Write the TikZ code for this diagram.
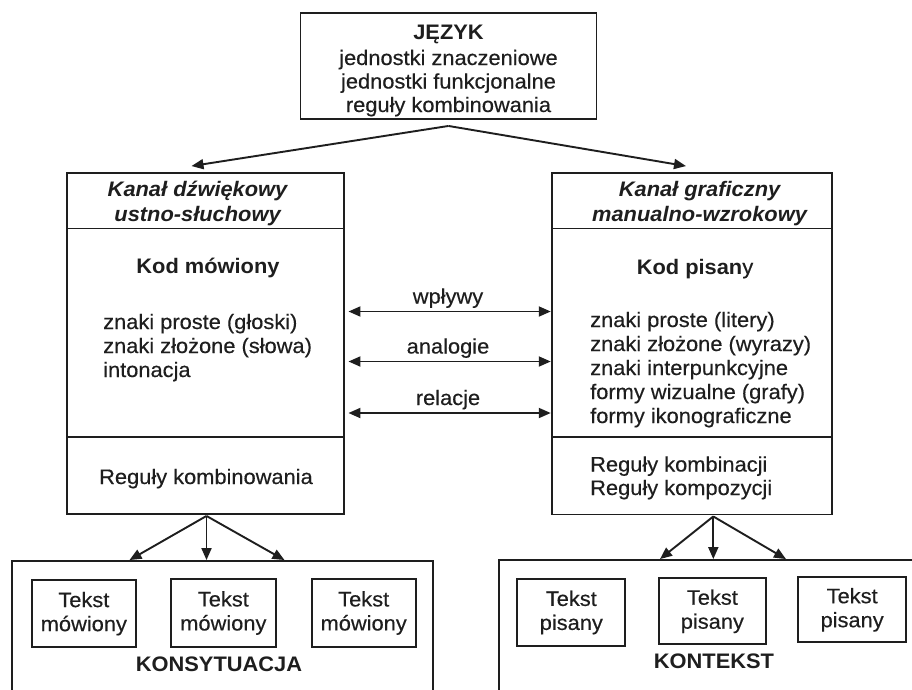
\documentclass[tikz,border=0pt]{standalone}
\usepackage{fontspec}
\setmainfont{Liberation Sans}[FakeStretch=1.04,UprightFeatures={FakeBold=0.35}]
\usetikzlibrary{arrows.meta,calc}
\definecolor{ink}{HTML}{1E1E1E}
\begin{document}
\begin{tikzpicture}[x=1pt,y=-1pt,
  font=\fontsize{21}{24}\selectfont,
  every node/.append style={text=ink},
  frame/.style 2 args={draw=ink,line width=1.9pt,inner sep=0pt,minimum width=#1,minimum height=#2},
  tc/.style={anchor=base,inner sep=0pt},
  tw/.style={anchor=base west,inner sep=0pt},
  arr/.style={draw=ink,line width=1.9pt,-{Triangle[length=12pt,width=10pt]}},
  dbl/.style={draw=ink,line width=1.9pt,{Triangle[length=12pt,width=10pt]}-{Triangle[length=12pt,width=10pt]},shorten <=3.5pt}]
\useasboundingbox (0,0) rectangle (912,689);
\clip (0,0) rectangle (912,689);
\fill[white] (0,0) rectangle (912,689);

% top box
\node[frame={296}{106}] (top) at (448.5,66) {};
\node[tc] (t0) at (448.5,39) {\textbf{JĘZYK}};
\node[tc] (t1) at (448.5,65) {jednostki znaczeniowe};
\node[tc] (t2) at (448.5,88.5) {jednostki funkcjonalne};
\node[tc] (t3) at (448.5,112) {reguły kombinowania};

% left column
\node[frame={277}{55.5}] (lhead) at (205.5,200.75) {};
\node[frame={277}{208.5}] (lcode) at (205.5,332.75) {};
\node[frame={277}{77}] (lrule) at (205.5,475.5) {};
\node[tc] (lh1) at (198,196) {\textbf{\textit{Kanał dźwiękowy}}};
\node[tc] (lh2) at (198,221) {\textbf{\textit{ustno-słuchowy}}};
\node[tc] (lk) at (208,273.5) {\textbf{Kod mówiony}};
\node[tw] (l1) at (103,329) {znaki proste (głoski)};
\node[tw] (l2) at (103,353) {znaki złożone (słowa)};
\node[tw] (l3) at (103,377) {intonacja};
\node[tc] (lr) at (206,484) {Reguły kombinowania};

% right column
\node[frame={280.6}{55.5}] (rhead) at (692,200.75) {};
\node[frame={280.6}{208.8}] (rcode) at (692,332.9) {};
\node[frame={280.6}{77.2}] (rrule) at (692,475.9) {};
\node[tc] (rh1) at (700,196) {\textbf{\textit{Kanał graficzny}}};
\node[tc] (rh2) at (700,221) {\textbf{\textit{manualno-wzrokowy}}};
\node[tc] (rk) at (695,274) {\textbf{Kod pisan}y};
\node[tw] (r1) at (590,327) {znaki proste (litery)};
\node[tw] (r2) at (590,351) {znaki złożone (wyrazy)};
\node[tw] (r3) at (590,375) {znaki interpunkcyjne};
\node[tw] (r4) at (590,399) {formy wizualne (grafy)};
\node[tw] (r5) at (590,423) {formy ikonograficzne};
\node[tw] (rr1) at (590,471.5) {Reguły kombinacji};
\node[tw] (rr2) at (590,495) {Reguły kompozycji};

% arrows from top
\coordinate (ta) at ($(top.south)+(0,6)$);
\coordinate (lt) at ($(lhead.north)+(-14,-6)$);
\coordinate (rt) at ($(rhead.north)+(-6,-6)$);
\draw[arr] (ta) -- (lt);
\draw[arr] (ta) -- (rt);

% double arrows
\coordinate (y1) at (0,311.5);
\coordinate (y2) at (0,361.5);
\coordinate (y3) at (0,413);
\draw[dbl] (lcode.east |- y1) -- (rcode.west |- y1);
\draw[dbl] (lcode.east |- y2) -- (rcode.west |- y2);
\draw[dbl] (lcode.east |- y3) -- (rcode.west |- y3);
\node[tc] (w1) at (448,303.5) {wpływy};
\node[tc] (w2) at (448,353.5) {analogie};
\node[tc] (w3) at (448,405) {relacje};

% bottom big boxes
\node[frame={421.6}{160}] (lbig) at (222.5,641) {};
\node[frame={500}{160}] (rbig) at (749.3,640) {};

% bottom arrows left
\coordinate (la) at ($(lrule.south)+(1,1)$);
\coordinate (lm) at (la |- lbig.north);
\draw[arr] (la) -- ($(lm)+(-77,0)$);
\draw[arr] (la) -- (lm);
\draw[arr] (la) -- ($(lm)+(78,0)$);

% bottom arrows right
\coordinate (ra) at ($(rrule.south)+(21.3,1)$);
\coordinate (rm) at (ra |- rbig.north);
\draw[arr] (ra) -- ($(rm)+(-53.3,0)$);
\draw[arr] (ra) -- (rm);
\draw[arr] (ra) -- ($(rm)+(72.7,0)$);

% small boxes left
\node[frame={104.3}{67.3},align=center] (m1) at (83.85,613.65) {Tekst\\mówiony};
\node[frame={105.3}{68.6},align=center] (m2) at (223.35,613) {Tekst\\mówiony};
\node[frame={104}{68.6},align=center] (m3) at (363.7,613) {Tekst\\mówiony};
\node[tc] (ks) at (219,671.7) {\textbf{KONSYTUACJA}};

% small boxes right
\node[frame={108}{66.4},align=center] (p1) at (571.3,612.5) {Tekst\\pisany};
\node[frame={106.7}{66},align=center] (p2) at (712.35,611.3) {Tekst\\pisany};
\node[frame={107.7}{65},align=center] (p3) at (852.15,609.8) {Tekst\\pisany};
\node[tc] (kt) at (714,668.3) {\textbf{KONTEKST}};
\end{tikzpicture}
\end{document}
